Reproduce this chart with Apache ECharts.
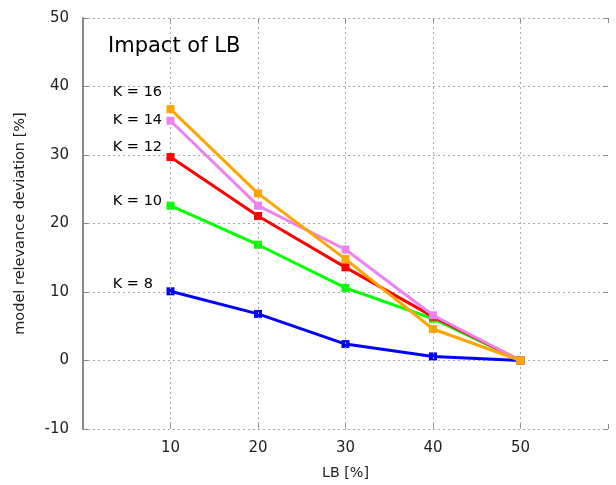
<!DOCTYPE html>
<html><head><meta charset="utf-8">
<script src="https://cdn.jsdelivr.net/npm/echarts@6/dist/echarts.min.js"></script>
<style>html,body{margin:0;padding:0;background:#fff}#c{width:616px;height:485px}</style>
</head><body><div id="c"></div>
<script>
const lbValues = [10, 20, 30, 40, 50];
const k8  = [10.1, 6.8, 2.4, 0.6, 0];
const k10 = [22.6, 16.9, 10.6, 6.1, 0];
const k12 = [29.7, 21.1, 13.6, 6.4, 0];
const k14 = [35.0, 22.6, 16.2, 6.6, 0];
const k16 = [36.7, 24.4, 14.8, 4.6, 0];
const seriesNames = ['K = 8', 'K = 10', 'K = 12', 'K = 14', 'K = 16'];
const seriesColors = ['#0000ff', '#00ff00', '#ff0000', '#ee82ee', '#ffa500'];
const labelX = 3.4;
const labelY = [11.2, 23.2, 31.2, 35.1, 39.1];
const xTicks = [10, 20, 30, 40, 50];

const FONT = 'DejaVu Sans';
const allData = [k8, k10, k12, k14, k16];
const chart = echarts.init(document.getElementById('c'), null, {renderer: 'canvas'});

const series = allData.map((vals, i) => ({
  name: seriesNames[i],
  type: 'line',
  data: lbValues.map((x, j) => [x, vals[j]]),
  symbol: 'rect',
  symbolSize: 8,
  showAllSymbol: true,
  lineStyle: {color: seriesColors[i], width: 3},
  itemStyle: {color: seriesColors[i]},
  z: 3 + i,
  animation: false
}));
// vertical dotted grid lines at labelled x ticks
series.push({
  type: 'line', data: [], silent: true, animation: false,
  markLine: {
    silent: true, symbol: ['none', 'none'], label: {show: false}, animation: false,
    lineStyle: {color: '#aaa', type: [2, 3], width: 1},
    data: xTicks.map(v => ({xAxis: v}))
  }
});

const tickStyle = {show: true, inside: true, length: 5, lineStyle: {color: '#888', width: 1}};

chart.setOption({
  animation: false,
  backgroundColor: '#fff',
  title: {
    text: 'Impact of LB', left: 108, top: 36, padding: 0,
    textStyle: {fontFamily: FONT, fontSize: 21, fontWeight: 'normal', color: '#000'}
  },
  grid: {left: 83, right: 8, top: 18, bottom: 56, containLabel: false},
  xAxis: [{
    type: 'value', min: 0, max: 60, interval: 10,
    name: 'LB [%]', nameLocation: 'middle', nameGap: 37,
    nameTextStyle: {fontFamily: FONT, fontSize: 14.3, color: '#222'},
    axisLine: {show: false, onZero: false},
    axisTick: tickStyle,
    axisLabel: {fontFamily: FONT, fontSize: 15, color: '#222', margin: 12,
      formatter: v => xTicks.includes(v) ? String(v) : ''},
    splitLine: {show: false}
  }, {
    type: 'value', min: 0, max: 60, interval: 10, position: 'top',
    axisLine: {show: false, onZero: false},
    axisTick: tickStyle,
    axisLabel: {show: false}, splitLine: {show: false}
  }],
  yAxis: [{
    type: 'value', min: -10, max: 50, interval: 10,
    name: 'model relevance deviation [%]', nameLocation: 'middle', nameGap: 55,
    nameTextStyle: {fontFamily: FONT, fontSize: 14.5, color: '#222'},
    axisLine: {show: true, onZero: false, lineStyle: {color: '#888', width: 2}},
    axisTick: tickStyle,
    axisLabel: {fontFamily: FONT, fontSize: 15, color: '#222', margin: 14},
    splitLine: {show: true, lineStyle: {color: '#aaa', type: [2, 3], width: 1}}
  }, {
    type: 'value', min: -10, max: 50, interval: 10, position: 'right',
    axisLine: {show: false, onZero: false},
    axisTick: tickStyle,
    axisLabel: {show: false}, splitLine: {show: false}
  }],
  series: series
});

const graphics = seriesNames.map((name, i) => {
  const p = chart.convertToPixel({xAxisIndex: 0, yAxisIndex: 0}, [labelX, labelY[i]]);
  return {
    type: 'text', x: p[0], y: p[1], z: 10,
    style: {text: name, fontFamily: FONT, fontSize: 14.5, fill: '#000',
      textAlign: 'left', textVerticalAlign: 'middle'}
  };
});
chart.setOption({graphic: graphics});
</script></body></html>
